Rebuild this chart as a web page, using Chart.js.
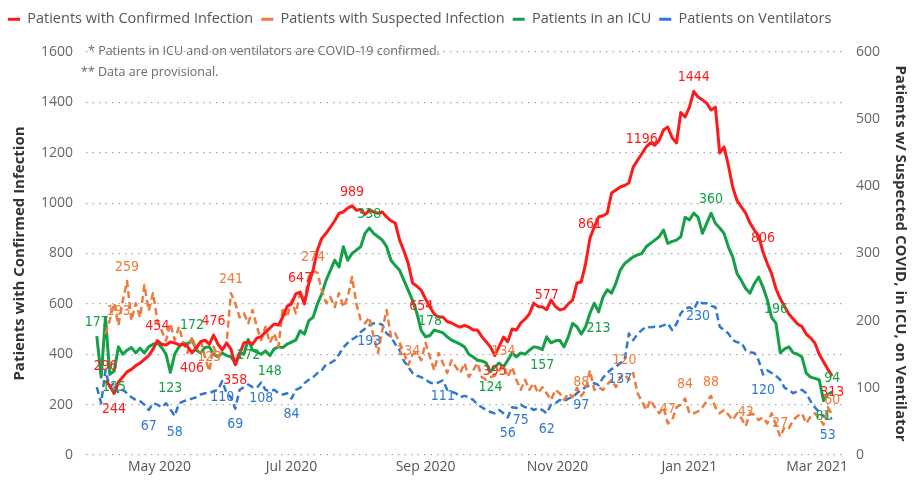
<!DOCTYPE html>
<html>
<head>
<meta charset="utf-8">
<title>COVID-19 hospitalizations</title>
<script src="https://cdn.jsdelivr.net/npm/chart.js@4.4.1/dist/chart.umd.min.js"></script>
<style>
  html, body { margin: 0; padding: 0; background: #fff; }
</style>
</head>
<body>
<canvas id="hospChart" width="915" height="480"></canvas>
<script>
// days counted from 1 Apr 2020, one value every second day
const firstDay = 1;
const dayStep = 2;

const xTickDays = [30, 91, 153, 214, 275, 334];
const xTickLabels = ['May 2020', 'Jul 2020', 'Sep 2020', 'Nov 2020', 'Jan 2021', 'Mar 2021'];

const seriesNames = [
  'Patients with Confirmed Infection',
  'Patients with Suspected Infection',
  'Patients in an ICU',
  'Patients on Ventilators',
];

const confirmed = [
  null, null, 296, 275, 244, 290, 310, 330, 340, 355,
  365, 380, 395, 420, 454, 440, 437, 449, 445, 437,
  440, 430, 406, 425, 450, 456, 440, 476, 440, 417,
  445, 420, 358, 400, 445, 449, 440, 464, 470, 488,
  504, 520, 516, 548, 590, 600, 640, 647, 600, 680,
  734, 814, 860, 880, 905, 930, 960, 965, 980, 989,
  972, 975, 955, 972, 965, 960, 965, 945, 930, 921,
  853, 810, 760, 683, 670, 654, 620, 588, 560, 548,
  548, 530, 524, 515, 508, 515, 508, 496, 496, 470,
  450, 429, 395, 430, 468, 450, 500, 496, 524, 540,
  560, 603, 590, 588, 577, 615, 590, 576, 580, 600,
  615, 683, 687, 760, 861, 905, 945, 950, 960, 1040,
  1052, 1064, 1070, 1080, 1143, 1170, 1196, 1223, 1239, 1230,
  1250, 1290, 1302, 1260, 1239, 1360, 1342, 1381, 1444, 1421,
  1410, 1397, 1370, 1381, 1199, 1223, 1150, 1064, 1010, 985,
  960, 921, 893, 870, 806, 760, 720, 660, 620, 590,
  560, 540, 520, 510, 480, 465, 445, 400, 370, 340,
  313,
];

const suspected = [
  null, null, 180, 201, 226, 193, 230, 259, 200, 226,
  205, 253, 215, 241, 200, 185, 170, 196, 171, 191,
  167, 152, 176, 156, 171, 146, 125, 161, 146, 156,
  167, 241, 226, 205, 211, 196, 216, 191, 171, 191,
  167, 181, 161, 220, 205, 230, 211, 241, 230, 265,
  274, 271, 246, 226, 235, 220, 241, 220, 235, 265,
  226, 201, 196, 205, 176, 152, 186, 216, 176, 181,
  167, 152, 134, 150, 152, 141, 167, 146, 126, 152,
  137, 122, 141, 131, 122, 137, 116, 126, 137, 116,
  112, 116, 118, 126, 134, 116, 131, 112, 97, 112,
  97, 107, 92, 101, 92, 82, 97, 92, 82, 92,
  86, 100, 88, 97, 126, 97, 101, 97, 105, 112,
  101, 116, 120, 112, 122, 92, 80, 67, 82, 71,
  62, 71, 47, 52, 71, 75, 84, 62, 62, 65,
  71, 80, 88, 71, 62, 67, 60, 52, 62, 55,
  43, 62, 60, 52, 56, 47, 62, 45, 27, 42,
  40, 52, 58, 62, 47, 57, 62, 55, 45, 71,
  60,
];

const icu = [
  177, 116, 205, 120, 125, 161, 150, 156, 160, 152,
  159, 152, 161, 165, 167, 160, 150, 123, 150, 161,
  167, 165, 172, 156, 152, 160, 161, 150, 146, 152,
  148, 146, 137, 152, 150, 172, 156, 153, 150, 155,
  148, 158, 161, 160, 165, 168, 171, 185, 180, 200,
  205, 225, 240, 260, 275, 290, 280, 310, 290, 300,
  305, 310, 330, 338, 330, 325, 320, 310, 290, 282,
  275, 260, 245, 230, 211, 185, 176, 178, 186, 184,
  182, 176, 171, 168, 165, 161, 150, 146, 141, 140,
  137, 124, 131, 137, 131, 141, 152, 146, 152, 150,
  156, 161, 160, 157, 176, 167, 170, 171, 161, 176,
  196, 191, 180, 191, 211, 226, 213, 235, 246, 241,
  256, 275, 285, 290, 295, 298, 300, 310, 315, 320,
  325, 335, 315, 318, 320, 325, 354, 350, 360, 354,
  330, 345, 360, 345, 338, 330, 310, 295, 270, 260,
  248, 241, 255, 265, 250, 231, 205, 196, 152, 158,
  161, 152, 150, 146, 122, 116, 114, 112, 81, 90,
  94,
];

const ventilators = [
  101, 77, 126, 101, 107, 92, 97, 92, 86, 82,
  80, 75, 67, 77, 75, 71, 77, 68, 58, 77,
  80, 82, 84, 86, 90, 92, 92, 95, 97, 110,
  92, 86, 69, 97, 101, 105, 101, 100, 108, 97,
  95, 97, 92, 90, 92, 84, 97, 100, 107, 112,
  116, 122, 126, 135, 137, 141, 150, 160, 167, 172,
  176, 183, 188, 193, 196, 196, 194, 181, 176, 165,
  156, 140, 131, 122, 118, 116, 112, 108, 106, 108,
  111, 97, 94, 92, 86, 88, 86, 82, 75, 71,
  67, 64, 62, 67, 62, 56, 71, 70, 75, 71,
  71, 67, 70, 67, 62, 75, 77, 82, 80, 84,
  86, 92, 97, 101, 104, 107, 104, 115, 122, 128,
  131, 137, 141, 181, 171, 180, 186, 191, 190, 191,
  191, 193, 196, 186, 195, 211, 218, 220, 216, 230,
  226, 226, 222, 220, 191, 186, 181, 171, 168, 167,
  156, 153, 152, 141, 120, 126, 122, 118, 112, 100,
  97, 92, 95, 97, 92, 80, 71, 64, 58, 53,
  55,
];

// which points carry a value label
const confirmedLabelIdx = [2, 4, 14, 22, 27, 32, 47, 59, 75, 92, 104, 114, 126, 138, 154, 170];
const suspectedLabelIdx = [5, 7, 26, 31, 50, 72, 94, 112, 122, 132, 136, 142, 150, 158, 170];
const icuLabelIdx = [0, 4, 17, 22, 35, 40, 63, 77, 91, 103, 116, 142, 157, 168, 170];
const ventilatorLabelIdx = [12, 18, 29, 32, 38, 45, 63, 80, 95, 98, 104, 112, 121, 139, 154, 169];
const labelsBelow = {
  0: [4, 22, 32, 75, 92, 170],
  1: [],
  2: [4, 17, 35, 40, 91, 103, 116, 168],
  3: ventilatorLabelIdx,
};

const COLORS = ['#ff1a1a', '#ec7b3d', '#14a046', '#2f78d2'];
const FONT = '"Open Sans", "Noto Sans", sans-serif';

function toPoints(values) {
  return values.map((v, i) => ({ x: firstDay + i * dayStep, y: v }));
}

const pointLabels = {
  id: 'pointLabels',
  afterDatasetsDraw(chart) {
    const ctx = chart.ctx;
    const lists = [confirmedLabelIdx, suspectedLabelIdx, icuLabelIdx, ventilatorLabelIdx];
    ctx.save();
    ctx.font = '14px "Liberation Sans Narrow", "DejaVu Sans Condensed", sans-serif';
    ctx.textAlign = 'center';
    ctx.textBaseline = 'middle';
    lists.forEach((idxs, d) => {
      const meta = chart.getDatasetMeta(d);
      const ds = chart.data.datasets[d];
      ctx.fillStyle = COLORS[d];
      idxs.forEach((i) => {
        const pt = meta.data[i];
        const val = ds.data[i].y;
        if (!pt || val == null) return;
        const below = labelsBelow[d].includes(i);
        ctx.fillText(String(val), pt.x, pt.y + (below ? 16 : -14));
      });
    });
    ctx.restore();
  },
};

const notes = {
  id: 'notes',
  afterDraw(chart) {
    const ctx = chart.ctx;
    ctx.save();
    ctx.font = '12.5px ' + FONT;
    ctx.fillStyle = '#6a6a6a';
    ctx.textBaseline = 'middle';
    ctx.fillText('* Patients in ICU and on ventilators are COVID-19 confirmed.', 88, 51);
    ctx.fillText('** Data are provisional.', 81, 72);
    ctx.restore();
  },
};

const legendHeight = {
  id: 'legendHeight',
  beforeInit(chart) {
    const fit = chart.legend.fit;
    chart.legend.fit = function () {
      fit.call(this);
      this.height = 48;
    };
  },
};

function lineSet(i, data, dashed, order) {
  return {
    label: seriesNames[i],
    data: toPoints(data),
    borderColor: COLORS[i],
    backgroundColor: COLORS[i],
    borderWidth: dashed ? 2.5 : 3,
    borderDash: dashed ? [7, 4] : [],
    borderJoinStyle: 'round',
    pointRadius: 0,
    tension: 0,
    yAxisID: i === 0 ? 'y' : 'y1',
    order,
  };
}

new Chart(document.getElementById('hospChart'), {
  type: 'line',
  data: {
    datasets: [
      lineSet(0, confirmed, false, 1),
      lineSet(1, suspected, true, 2),
      lineSet(2, icu, false, 3),
      lineSet(3, ventilators, true, 4),
    ],
  },
  options: {
    responsive: false,
    animation: false,
    devicePixelRatio: 1,
    layout: { padding: { top: 4, left: 0, right: 0, bottom: 0 } },
    plugins: {
      tooltip: { enabled: false },
      legend: {
        align: 'start',
        labels: {
          color: '#555',
          font: { family: FONT, size: 14.5 },
          boxWidth: 12,
          boxHeight: 3,
          padding: 8,
          generateLabels: (chart) =>
            Chart.defaults.plugins.legend.labels.generateLabels(chart).map((item) => ({
              ...item,
              fillStyle: COLORS[item.datasetIndex],
              strokeStyle: COLORS[item.datasetIndex],
              lineWidth: 0,
              lineDash: [],
            })),
        },
      },
    },
    scales: {
      x: {
        type: 'linear',
        min: -4,
        max: 346,
        grid: { display: false, drawTicks: false },
        border: { display: false },
        afterBuildTicks: (scale) => {
          scale.ticks = xTickDays.map((v) => ({ value: v }));
        },
        afterFit: (scale) => {
          scale.height = 25;
        },
        ticks: {
          autoSkip: false,
          maxRotation: 0,
          padding: 4,
          color: '#555',
          font: { family: FONT, size: 14 },
          callback: (v) => xTickLabels[xTickDays.indexOf(v)],
        },
      },
      y: {
        position: 'left',
        min: 0,
        max: 1600,
        afterFit: (scale) => {
          scale.width = 86;
        },
        ticks: {
          stepSize: 200,
          padding: 13,
          color: '#666',
          font: { family: FONT, size: 14 },
          callback: (v) => String(v),
        },
        grid: { color: '#a8a8a8', lineWidth: 1.2, drawTicks: false },
        border: { display: false, dash: [1.5, 5] },
        title: {
          display: true,
          text: 'Patients with Confirmed Infection',
          color: '#333',
          font: { family: FONT, size: 15, weight: 'bold' },
          padding: { top: 11, bottom: 0 },
        },
      },
      y1: {
        position: 'right',
        min: 0,
        max: 600,
        afterFit: (scale) => {
          scale.width = 72;
        },
        ticks: {
          stepSize: 100,
          padding: 13,
          color: '#666',
          font: { family: FONT, size: 14 },
        },
        grid: { display: false, drawTicks: false },
        border: { display: false },
        title: {
          display: true,
          text: 'Patients w/ Suspected COVID, in ICU, on Ventilator',
          color: '#333',
          font: { family: FONT, size: 15, weight: 'bold' },
          padding: { top: 6, bottom: 0 },
        },
      },
    },
  },
  plugins: [legendHeight, pointLabels, notes],
});
</script>
</body>
</html>
